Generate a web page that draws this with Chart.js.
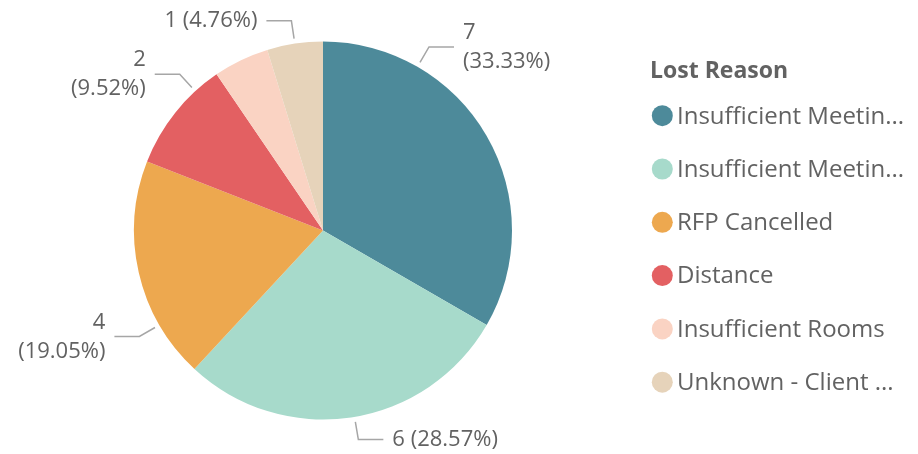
<!DOCTYPE html>
<html><head><meta charset="utf-8">
<style>html,body{margin:0;padding:0;background:#fff;}#wrap{width:918px;height:454px;position:relative;}</style>
<script src="https://cdn.jsdelivr.net/npm/chart.js@4"></script>
</head><body>
<div id="wrap"><canvas id="c"></canvas></div>
<script>
const categories = ['Insufficient Meetin...', 'Insufficient Meetin...', 'RFP Cancelled', 'Distance', 'Insufficient Rooms', 'Unknown - Client ...'];
const values = [7, 6, 4, 2, 1, 1];
const colors = ['#4D8A9A', '#A7DACB', '#EDA84F', '#E36062', '#FAD3C3', '#E6D3BA'];
const legendTitle = 'Lost Reason';
// label placement settings (where inside each slice the leader line attaches)
const labelAnchor = [0.25, 0.49, 0.25, 0.76, 0.5, 0.5];
const labelShown = [true, true, true, true, false, true];
const labelWrap = [true, false, true, true, false, false];

const FONT = '"Open Sans", "Segoe UI", sans-serif';
const TEXT = '#626262';

const labelPlugin = {
  id: 'outLabels',
  afterDraw(chart) {
    const ctx = chart.ctx;
    const meta = chart.getDatasetMeta(0);
    const data = chart.data.datasets[0].data;
    const total = data.reduce((a, b) => a + b, 0);
    ctx.save();
    meta.data.forEach((arc, i) => {
      if (!labelShown[i]) return;
      const p = arc.getProps(['x', 'y', 'startAngle', 'endAngle', 'outerRadius'], true);
      const a = p.startAngle + (p.endAngle - p.startAngle) * labelAnchor[i];
      const r1 = p.outerRadius + 5, r2 = p.outerRadius + 23;
      const x1 = p.x + Math.cos(a) * r1, y1 = p.y + Math.sin(a) * r1;
      const x2 = p.x + Math.cos(a) * r2, y2 = p.y + Math.sin(a) * r2;
      const dir = Math.cos(a) >= 0 ? 1 : -1;
      const x3 = x2 + dir * 25;
      ctx.strokeStyle = '#A6A6A6';
      ctx.lineWidth = 1.5;
      ctx.beginPath();
      ctx.moveTo(x1, y1); ctx.lineTo(x2, y2); ctx.lineTo(x3, y2);
      ctx.stroke();
      const v = data[i];
      const pct = '(' + (v / total * 100).toFixed(2) + '%)';
      ctx.fillStyle = TEXT;
      ctx.font = '22px ' + FONT;
      ctx.textAlign = dir > 0 ? 'left' : 'right';
      ctx.textBaseline = 'middle';
      const tx = x3 + dir * 9;
      if (labelWrap[i]) {
        ctx.fillText(String(v), tx, y2 - 14);
        ctx.fillText(pct, tx, y2 + 15);
      } else {
        ctx.fillText(v + ' ' + pct, tx, y2);
      }
    });
    // legend
    ctx.textAlign = 'left';
    ctx.textBaseline = 'middle';
    ctx.fillStyle = TEXT;
    ctx.font = 'bold 23px ' + FONT;
    ctx.fillText(legendTitle, 650, 71);
    const bg = chart.data.datasets[0].backgroundColor;
    chart.data.labels.forEach((lab, i) => {
      const cy = 115.7 + i * 53.3;
      ctx.fillStyle = bg[i];
      ctx.beginPath();
      ctx.arc(662.3, cy, 10.5, 0, Math.PI * 2);
      ctx.fill();
      ctx.fillStyle = TEXT;
      ctx.font = '24px ' + FONT;
      ctx.fillText(lab, 677, cy + 1);
    });
    ctx.restore();
  }
};

new Chart(document.getElementById('c'), {
  type: 'pie',
  data: {
    labels: categories,
    datasets: [{ data: values, backgroundColor: colors, borderWidth: 0 }]
  },
  options: {
    responsive: true,
    maintainAspectRatio: false,
    animation: false,
    radius: 189,
    layout: { padding: { left: 0, right: 272, top: 7, bottom: 0 } },
    plugins: { legend: { display: false }, tooltip: { enabled: false } }
  },
  plugins: [labelPlugin]
});
</script>
</body></html>
